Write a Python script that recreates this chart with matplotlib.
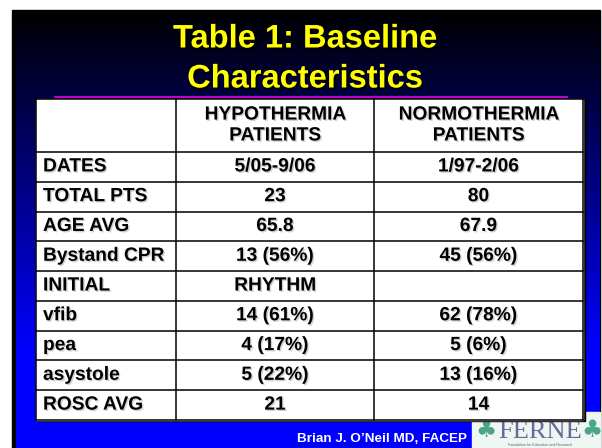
import numpy as np
import matplotlib
matplotlib.use("Agg")
import matplotlib.pyplot as plt
from matplotlib import patheffects as pe
from matplotlib.patches import Rectangle

plt.rcParams['font.family'] = ['Liberation Sans', 'DejaVu Sans']

title_lines = ["Table 1: Baseline", "Characteristics"]
col_headers = ["HYPOTHERMIA\nPATIENTS", "NORMOTHERMIA\nPATIENTS"]
row_labels = ["DATES", "TOTAL PTS", "AGE AVG", "Bystand CPR", "INITIAL",
              "vfib", "pea", "asystole", "ROSC AVG"]
hypo_vals = ["5/05-9/06", "23", "65.8", "13 (56%)", "RHYTHM",
             "14 (61%)", "4 (17%)", "5 (22%)", "21"]
normo_vals = ["1/97-2/06", "80", "67.9", "45 (56%)", "",
              "62 (78%)", "5 (6%)", "13 (16%)", "14"]
footer = "Brian J. O\u2019Neil MD, FACEP"

W, H = 602, 448
fig = plt.figure(figsize=(W / 100, H / 100), dpi=100)
ax = fig.add_axes([0, 0, 1, 1])
ax.axis('off')

# slide background: black border + vertical black->blue gradient
ax.add_patch(Rectangle((12, 10), 588, H - 10, color='black', zorder=0))
grad = np.clip(np.linspace(0, 1, 400) / 0.78, 0, 1)
img = np.zeros((400, 1, 3))
img[:, 0, 2] = grad
ax.imshow(img, extent=(16, 600, H, 10), aspect='auto', zorder=1,
          interpolation='bilinear')
ax.set_xlim(0, W)
ax.set_ylim(H, 0)

# title
shadow_t = [pe.SimplePatchShadow(offset=(1.5, -1.5), shadow_rgbFace='black', alpha=0.8),
            pe.Normal()]
for i, line in enumerate(title_lines):
    ax.text(305, 39 + i * 40, line, color='#ffff00', fontsize=23.5,
            fontweight='bold', ha='center', va='center', zorder=5,
            path_effects=shadow_t)

ax.plot([55, 567], [97, 97], color='#e600e6', lw=1.2, zorder=5)

# logo (partly under the table)
ax.add_patch(Rectangle((472, 412), 128, 36, color='#eef6f2', zorder=2))
ax.text(540, 432, "FERNE", family='Liberation Serif', fontsize=19,
        color='#6a6a9a', ha='center', va='center', zorder=3)
ax.text(486, 430, "\u2663", fontsize=17, color='#4aa58a', ha='center',
        va='center', zorder=3, family='DejaVu Sans')
ax.text(592, 430, "\u2663", fontsize=17, color='#4aa58a', ha='center',
        va='center', zorder=3, family='DejaVu Sans')
ax.text(540, 445, "Foundation for Education and Research", fontsize=2.6,
        color='#556677', ha='center', va='center', zorder=3)

# table
col_edges = [36, 176, 374, 583]
top, head_bot, bottom = 99, 152, 420
n = len(row_labels)
row_edges = [top, head_bot] + [head_bot + (bottom - head_bot) * (k + 1) / n for k in range(n)]

ax.add_patch(Rectangle((col_edges[0] + 1.5, top + 1.5), col_edges[-1] - col_edges[0],
                       bottom - top, color='black', zorder=3))
ax.add_patch(Rectangle((col_edges[0], top), col_edges[-1] - col_edges[0],
                       bottom - top, color='white', zorder=4))
for x in col_edges:
    ax.plot([x, x], [top, bottom], color='black', lw=1.1, zorder=6)
for y in row_edges:
    ax.plot([col_edges[0], col_edges[-1]], [y, y], color='black', lw=1.1, zorder=6)

shadow = [pe.SimplePatchShadow(offset=(1.0, -1.0), shadow_rgbFace='#999999', alpha=0.45),
          pe.Normal()]
fs = 13.8
centers = [(col_edges[1] + col_edges[2]) / 2, (col_edges[2] + col_edges[3]) / 2]
hy = (top + head_bot) / 2
for cx, h in zip(centers, col_headers):
    ax.text(cx, hy, h, fontsize=fs, fontweight='bold', ha='center', va='center',
            linespacing=1.3, zorder=7, path_effects=shadow)

for k in range(n):
    cy = (row_edges[k + 1] + row_edges[k + 2]) / 2
    ax.text(43, cy, row_labels[k], fontsize=fs, fontweight='bold', ha='left',
            va='center', zorder=7, path_effects=shadow)
    ax.text(centers[0], cy, hypo_vals[k], fontsize=fs, fontweight='bold',
            ha='center', va='center', zorder=7, path_effects=shadow)
    ax.text(centers[1], cy, normo_vals[k], fontsize=fs, fontweight='bold',
            ha='center', va='center', zorder=7, path_effects=shadow)

ax.text(382, 439, footer, color='white', fontsize=9.7, fontweight='bold',
        ha='center', va='center', zorder=5)

fig.savefig("out.png", dpi=100)
